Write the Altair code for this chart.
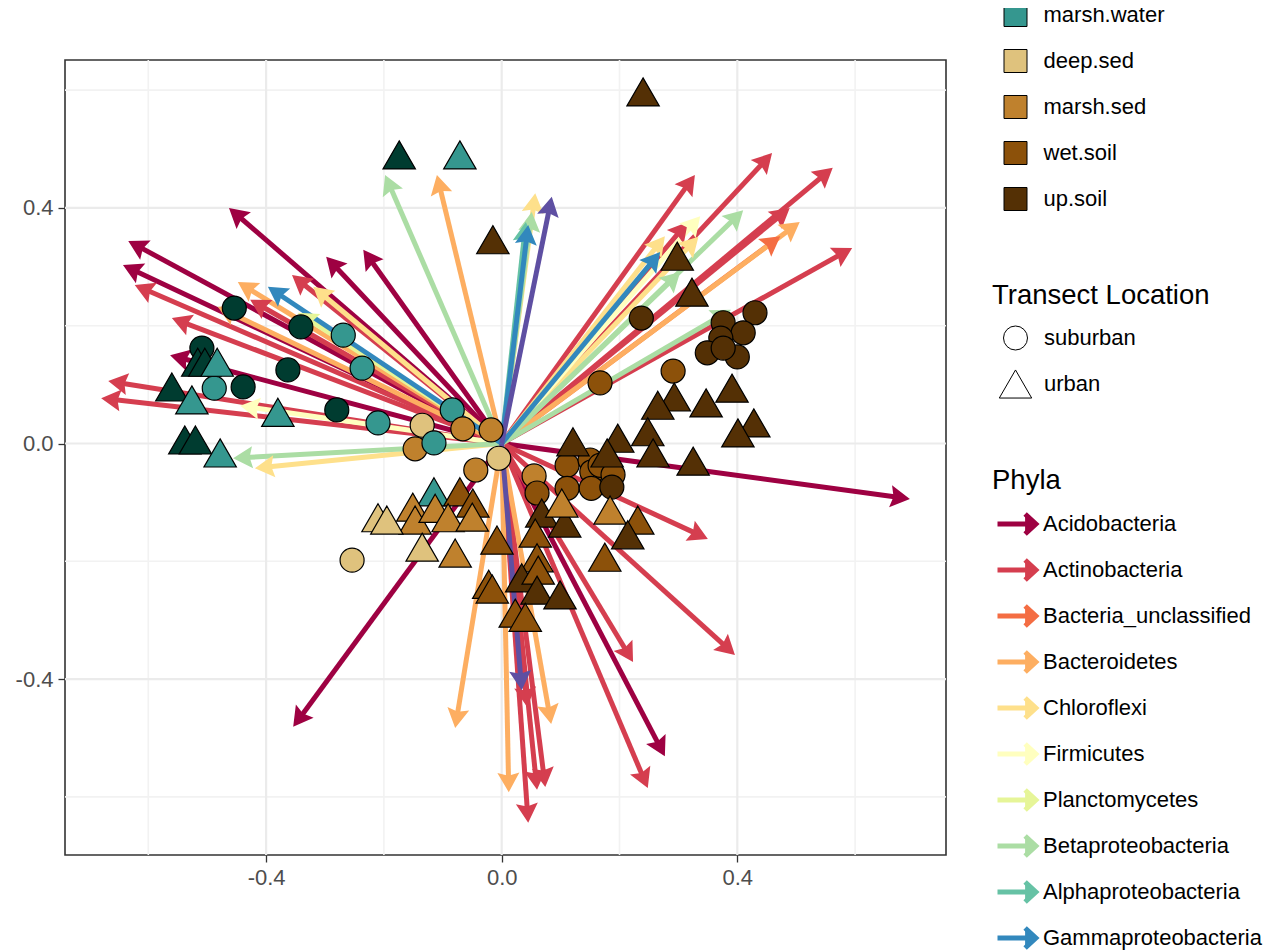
import altair as alt
import numpy as np
import pandas as pd

# ---------------- data ----------------
phyla_levels = ["Acidobacteria", "Actinobacteria", "Bacteria_unclassified", "Bacteroidetes",
                "Chloroflexi", "Firmicutes", "Planctomycetes", "Betaproteobacteria",
                "Alphaproteobacteria", "Gammaproteobacteria", "Deltaproteobacteria"]
phyla_colors = ["#9E0142", "#D53E4F", "#F46D43", "#FDAE61", "#FEE08B", "#FFFFBF",
                "#E6F598", "#ABDDA4", "#66C2A5", "#3288BD", "#5E4FA2"]

arrow_phylum = (["Acidobacteria"] * 9 + ["Actinobacteria"] * 20 + ["Bacteria_unclassified"] * 1
                + ["Bacteroidetes"] * 7 + ["Chloroflexi"] * 5 + ["Firmicutes"] * 2
                + ["Planctomycetes"] * 1 + ["Betaproteobacteria"] * 6 + ["Alphaproteobacteria"] * 1
                + ["Gammaproteobacteria"] * 3 + ["Deltaproteobacteria"] * 2)
arrow_x = ([-0.463, -0.634, -0.643, -0.298, -0.235, -0.563, -0.354, 0.693, 0.277]
           + [-0.623, -0.560, -0.356, -0.668, -0.680, 0.328, 0.459, 0.562, 0.595, 0.489,
              0.316, 0.350, 0.396, 0.223, 0.248, 0.045, 0.074, 0.060, 0.043, -0.427]
           + [0.473]
           + [-0.110, -0.448, -0.079, 0.012, 0.084, 0.506, -0.482]
           + [-0.320, -0.419, 0.057, 0.277, 0.334]
           + [0.337, -0.444]
           + [-0.346]
           + [-0.198, 0.051, 0.410, 0.389, -0.456, 0.303]
           + [0.041]
           + [-0.397, 0.045, 0.269]
           + [0.085, 0.034])
arrow_y = ([0.400, 0.344, 0.303, 0.317, 0.329, 0.150, -0.481, -0.094, -0.531]
           + [0.269, 0.213, 0.286, 0.106, 0.077, 0.456, 0.493, 0.468, 0.332, 0.400,
              0.376, -0.162, -0.359, -0.371, -0.585, -0.644, -0.583, -0.588, -0.447, 0.244]
           + [0.352]
           + [0.456, 0.274, -0.483, -0.592, -0.476, 0.376, 0.232]
           + [0.266, -0.042, 0.425, 0.352, 0.351]
           + [0.386, 0.064]
           + [0.222]
           + [0.456, 0.393, 0.396, 0.227, -0.025, 0.291]
           + [0.376]
           + [0.266, 0.371, 0.325]
           + [0.419, -0.419])

habitat_levels = ["deep.water", "marsh.water", "deep.sed", "marsh.sed", "wet.soil", "up.soil"]
habitat_colors = ["#003C30", "#35978F", "#DFC27D", "#BF812D", "#8C510A", "#543005"]

# urban (triangles)
tri_habitat = ["up.soil", "deep.water", "marsh.water", "up.soil", "up.soil", "up.soil", "up.soil",
               "up.soil", "up.soil", "up.soil", "up.soil", "up.soil", "up.soil", "up.soil",
               "up.soil", "up.soil", "up.soil", "up.soil",
               "marsh.water", "wet.soil", "marsh.sed", "marsh.sed", "deep.sed", "deep.sed",
               "marsh.sed", "marsh.sed", "wet.soil", "marsh.sed", "deep.sed", "marsh.sed",
               "wet.soil", "up.soil", "up.soil", "marsh.sed", "marsh.sed", "wet.soil", "up.soil",
               "wet.soil", "wet.soil", "wet.soil", "wet.soil", "wet.soil", "up.soil", "wet.soil",
               "up.soil", "up.soil", "wet.soil", "wet.soil",
               "deep.water", "deep.water", "marsh.water", "deep.water", "marsh.water",
               "marsh.water", "deep.water", "deep.water", "marsh.water"]
tri_x = [0.240, -0.174, -0.071, -0.015, 0.298, 0.323, 0.293, 0.265, 0.347, 0.391, 0.428, 0.401,
         0.248, 0.257, 0.325, 0.121, 0.197, 0.179,
         -0.115, -0.071, -0.151, -0.147, -0.210, -0.195, -0.113, -0.091, -0.049, -0.050, -0.135,
         -0.079, -0.008, 0.068, 0.107, 0.102, 0.184, 0.231, 0.214, 0.057, 0.175, 0.060, -0.022,
         -0.016, 0.034, 0.062, 0.060, 0.099, 0.023, 0.040,
         -0.516, -0.504, -0.483, -0.560, -0.526, -0.380, -0.538, -0.520, -0.478]
tri_y = [0.597, 0.490, 0.490, 0.346, 0.318, 0.257, 0.079, 0.065, 0.069, 0.094, 0.035, 0.018,
         0.020, -0.016, -0.030, 0.003, 0.009, -0.016,
         -0.082, -0.082, -0.108, -0.130, -0.126, -0.130, -0.110, -0.126, -0.101, -0.125, -0.176,
         -0.186, -0.164, -0.118, -0.135, -0.101, -0.113, -0.130, -0.155, -0.152, -0.193, -0.194,
         -0.239, -0.247, -0.228, -0.215, -0.249, -0.257, -0.288, -0.295,
         0.138, 0.138, 0.138, 0.096, 0.074, 0.053, 0.006, 0.006, -0.016]

# suburban (circles)
cir_habitat = ["up.soil", "up.soil", "up.soil", "up.soil", "up.soil", "up.soil", "up.soil", "up.soil",
               "wet.soil", "wet.soil",
               "deep.water", "deep.water", "marsh.water", "deep.water", "deep.water", "marsh.water",
               "marsh.water", "deep.water", "deep.water", "marsh.water",
               "deep.sed", "marsh.sed", "marsh.water", "marsh.water", "marsh.sed", "marsh.sed",
               "deep.sed", "marsh.sed", "marsh.sed", "wet.soil", "wet.soil", "wet.soil", "wet.soil",
               "wet.soil", "wet.soil", "wet.soil", "wet.soil", "up.soil", "deep.sed"]
cir_x = [0.237, 0.430, 0.376, 0.410, 0.372, 0.349, 0.400, 0.376, 0.291, 0.167,
         -0.454, -0.341, -0.269, -0.509, -0.363, -0.237, -0.488, -0.439, -0.280, -0.210,
         -0.135, -0.147, -0.115, -0.084, -0.066, -0.018, -0.005, -0.044, 0.055, 0.060, 0.111,
         0.111, 0.150, 0.153, 0.167, 0.189, 0.152, 0.187, -0.254]
cir_y = [0.213, 0.222, 0.205, 0.188, 0.179, 0.154, 0.147, 0.162, 0.123, 0.103,
         0.230, 0.198, 0.184, 0.162, 0.125, 0.128, 0.094, 0.096, 0.057, 0.035,
         0.031, -0.009, 0.001, 0.057, 0.025, 0.023, -0.025, -0.045, -0.055, -0.084, -0.037,
         -0.076, -0.028, -0.048, -0.037, -0.053, -0.076, -0.074, -0.198]

x_ticks = [-0.4, 0.0, 0.4]
y_ticks = [-0.4, 0.0, 0.4]
x_minor = [-0.6, -0.2, 0.2, 0.6]
y_minor = [-0.6, -0.2, 0.2, 0.6]

# ---------------- derived tables ----------------
PX = 589.0  # pixels per unit (used only for arrowhead orientation and shaft trimming)
arrows = pd.DataFrame({"phylum": arrow_phylum, "x": arrow_x, "y": arrow_y})
arrows["x0"] = 0.0
arrows["y0"] = 0.0
length_px = np.hypot(arrows["x"], arrows["y"]) * PX
trim = np.clip(1 - 12.0 / length_px, 0, 1)
arrows["xe"] = arrows["x"] * trim
arrows["ye"] = arrows["y"] * trim
arrows["ang"] = (np.degrees(np.arctan2(-arrows["y"], arrows["x"])) + 360) % 360

points = pd.concat([
    pd.DataFrame({"habitat": cir_habitat, "loc": "suburban", "x": cir_x, "y": cir_y}),
    pd.DataFrame({"habitat": tri_habitat, "loc": "urban", "x": tri_x, "y": tri_y}),
], ignore_index=True)

FONT = "Liberation Sans"
xscale = alt.Scale(domain=[-0.7414, 0.7543], nice=False, zero=False)
yscale = alt.Scale(domain=[-0.6986, 0.6511], nice=False, zero=False)
TRI = "M0,-1.17L1.35,1.17L-1.35,1.17Z"
HEAD = "M0,0L-1.95,-1.1L-1.65,0L-1.95,1.1Z"
ARROW_SYM = "M-1,0L0.82,0M0.38,-0.5L0.92,0L0.38,0.5"

lab_expr = "(datum.value < 0 ? '-' : '') + format(abs(datum.value), '.1f')"
x_axis = alt.Axis(values=x_ticks, labelExpr=lab_expr, title="", grid=False, domain=False,
                  tickSize=7, tickWidth=1.3, tickColor="#333333", labelPadding=5,
                  labelFont=FONT, labelFontSize=22, labelColor="#4D4D4D")
y_axis = alt.Axis(values=y_ticks, labelExpr=lab_expr, title="", grid=False, domain=False,
                  tickSize=7, tickWidth=1.3, tickColor="#333333", labelPadding=5,
                  labelFont=FONT, labelFontSize=22, labelColor="#4D4D4D")


def X(field):
    return alt.X(field, scale=xscale, axis=x_axis)


def Y(field):
    return alt.Y(field, scale=yscale, axis=y_axis)


grid_minor_x = alt.Chart(pd.DataFrame({"v": x_minor})).mark_rule(color="#F2F2F2", strokeWidth=1.6).encode(
    x=X("v:Q"))
grid_minor_y = alt.Chart(pd.DataFrame({"v": y_minor})).mark_rule(color="#F2F2F2", strokeWidth=1.6).encode(
    y=Y("v:Q"))
grid_major_x = alt.Chart(pd.DataFrame({"v": x_ticks})).mark_rule(color="#EBEBEB", strokeWidth=2.2).encode(
    x=X("v:Q"))
grid_major_y = alt.Chart(pd.DataFrame({"v": y_ticks})).mark_rule(color="#EBEBEB", strokeWidth=2.2).encode(
    y=Y("v:Q"))

shafts = alt.Chart(arrows).mark_rule(strokeWidth=5, strokeCap="butt", opacity=1).encode(
    x=X("x0:Q"), y=Y("y0:Q"), x2="xe:Q", y2="ye:Q",
    stroke=alt.Stroke("phylum:N", scale=alt.Scale(domain=phyla_levels, range=phyla_colors), legend=alt.Legend(
        title="Phyla", orient="none", legendX=927, legendY=407, padding=0,
        symbolType=ARROW_SYM, symbolSize=1600, symbolStrokeWidth=5, symbolFillColor="transparent",
        symbolOffset=3, labelOffset=3, rowPadding=3, titlePadding=7, labelLimit=400, titleLimit=400,
        titleFont=FONT, titleFontSize=27.5, titleFontWeight="normal", titleColor="black",
        labelFont=FONT, labelFontSize=22, labelColor="black")),
)

heads = alt.Chart(arrows).mark_point(shape=HEAD, filled=True, size=400, opacity=1, strokeWidth=0).encode(
    x=X("x:Q"), y=Y("y:Q"),
    angle=alt.Angle("ang:Q", scale=None),
    color=alt.Color("phylum:N", scale=alt.Scale(domain=phyla_levels, range=phyla_colors), legend=None),
)

pts = alt.Chart(points).mark_point(filled=True, size=576, stroke="black", strokeWidth=1.2, opacity=1).encode(
    x=X("x:Q"), y=Y("y:Q"),
    fill=alt.Fill("habitat:N", scale=alt.Scale(domain=habitat_levels, range=habitat_colors),
                  legend=alt.Legend(
                      title="Habitat", orient="none", legendX=927, legendY=-140.5, padding=0,
                      symbolType="square", symbolSize=529, symbolStrokeColor="black",
                      symbolStrokeWidth=1, symbolOffset=11.5, labelOffset=16, rowPadding=18,
                      titlePadding=10, labelLimit=400, titleLimit=400,
                      titleFont=FONT, titleFontSize=27.5, titleFontWeight="normal", titleColor="black",
                      labelFont=FONT, labelFontSize=22, labelColor="black")),
    shape=alt.Shape("loc:N", scale=alt.Scale(domain=["suburban", "urban"], range=["circle", TRI]),
                    legend=alt.Legend(
                        title="Transect Location", orient="none", legendX=927, legendY=221.5, padding=0,
                        symbolSize=576, symbolFillColor="white", symbolStrokeColor="black",
                        symbolStrokeWidth=1, symbolOffset=11, labelOffset=16, rowPadding=15,
                        titlePadding=16.5, labelLimit=400, titleLimit=400,
                        titleFont=FONT, titleFontSize=27.5, titleFontWeight="normal", titleColor="black",
                        labelFont=FONT, labelFontSize=22, labelColor="black")),
)

chart = alt.layer(grid_minor_x, grid_minor_y, grid_major_x, grid_major_y, shafts, heads, pts).properties(
    width=881, height=795,
    padding={"left": 57, "top": 52, "right": 327, "bottom": 96},
    autosize=alt.AutoSizeParams(type="none"),
    background="white",
).configure_view(stroke="#333333", strokeWidth=1.6)

chart.save("out.html", embed_options={"renderer": "svg", "actions": False})
